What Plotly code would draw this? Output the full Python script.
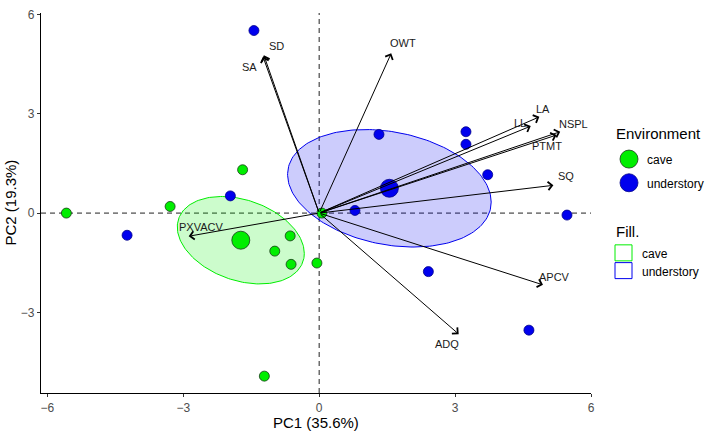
import numpy as np
import plotly.graph_objects as go

# ---- data ----
cave_pc1 = [-5.58, -3.29, -1.69, -0.64, -0.98, -0.62, -0.05, -1.21, 0.06]
cave_pc2 = [0.0, 0.20, 1.31, -0.69, -1.15, -1.55, -1.51, -4.93, 0.0]
und_pc1 = [-1.44, -1.96, -4.24, 1.32, 3.24, 3.24, 3.72, 0.79, 5.47, 2.41, 4.63]
und_pc2 = [5.52, 0.52, -0.67, 2.38, 2.46, 2.08, 1.16, 0.08, -0.06, -1.77, -3.54]

centroid_groups = ["cave", "understory"]
centroid_pc1 = [-1.73, 1.55]
centroid_pc2 = [-0.82, 0.75]

# ellipse covariance-like parameters (sxx, syy, sxy) per group
ell_sxx = [1.965, 5.05]
ell_syy = [1.748, 3.155]
ell_sxy = [-0.56, -0.939]

var_names = ["SA", "SD", "OWT", "LA", "LL", "NSPL", "PTMT", "SQ", "APCV", "ADQ", "PXVACV"]
var_pc1 = [-1.24, -1.22, 1.59, 4.86, 4.67, 5.32, 5.24, 5.17, 4.94, 3.08, -2.88]
var_pc2 = [4.73, 4.77, 4.83, 2.91, 2.63, 2.46, 2.36, 0.84, -2.17, -3.66, -0.70]

x_ticks = [-6, -3, 0, 3, 6]
y_ticks = [-3, 0, 3, 6]

# ---- styles ----
label_xshift = [-13, 13, 12, 4, -11, 13, -10, 13, 12, -12, 12]
label_yshift = [-10, 9, 10, 8, 3, 8, -11, 9, 8, -10, 9]
GREEN = "#00EE00"
BLUE = "#0000EE"
colors = [GREEN, BLUE]
outlines = ["#1a3a1a", "#00008a"]
fills = ["rgba(0,238,0,0.2)", "rgba(0,0,238,0.2)"]

XR = [-6.14, 6.0]
YR = [-5.44, 6.05]
L, R, T, B = 41, 118, 8, 42
W, H = 709, 435
PW, PH = W - L - R, H - T - B


def px(x):
    return (x - L) / PW


def py(y):
    return (H - B - y) / PH


fig = go.Figure()

# ellipses
t = np.linspace(0, 2 * np.pi, 200)
for i, g in enumerate(centroid_groups):
    M = np.array([[ell_sxx[i], ell_sxy[i]], [ell_sxy[i], ell_syy[i]]])
    Lc = np.linalg.cholesky(M)
    pts = Lc @ np.vstack([np.cos(t), np.sin(t)])
    fig.add_trace(go.Scatter(
        x=centroid_pc1[i] + pts[0], y=centroid_pc2[i] + pts[1],
        mode="lines", fill="toself", fillcolor=fills[i],
        line=dict(color=colors[i], width=1), hoverinfo="skip", showlegend=False))

# points
fig.add_trace(go.Scatter(x=cave_pc1, y=cave_pc2, mode="markers",
                         marker=dict(color=GREEN, size=10, line=dict(color=outlines[0], width=0.8)),
                         showlegend=False))
fig.add_trace(go.Scatter(x=und_pc1, y=und_pc2, mode="markers",
                         marker=dict(color=BLUE, size=10, line=dict(color=outlines[1], width=0.8)),
                         showlegend=False))
fig.add_trace(go.Scatter(x=centroid_pc1, y=centroid_pc2, mode="markers",
                         marker=dict(color=colors, size=18, line=dict(color=outlines, width=0.8)),
                         showlegend=False))

# reference dashed lines
fig.add_shape(type="line", xref="paper", yref="y", x0=0, x1=1, y0=0, y1=0,
              line=dict(color="#222222", width=1, dash="5px,4px"), layer="below")
fig.add_shape(type="line", xref="x", yref="paper", x0=0, x1=0, y0=0, y1=1,
              line=dict(color="#222222", width=1, dash="5px,4px"), layer="below")

# arrows and labels
for i, nm in enumerate(var_names):
    fig.add_annotation(x=var_pc1[i], y=var_pc2[i], ax=0, ay=0, xref="x", yref="y",
                       axref="x", ayref="y", text="", showarrow=True,
                       arrowhead=4, arrowsize=1.6, arrowwidth=1, arrowcolor="black", standoff=0)
    fig.add_annotation(x=var_pc1[i], y=var_pc2[i], xref="x", yref="y", text=nm,
                       showarrow=False, xshift=label_xshift[i], yshift=label_yshift[i],
                       font=dict(size=11, color="#1a1a1a"))

# axis titles
fig.add_annotation(x=px(316), y=py(423), xref="paper", yref="paper", text="PC1 (35.6%)",
                   showarrow=False, font=dict(size=15, color="black"), xanchor="center", yanchor="middle")
fig.add_annotation(x=px(11), y=py(200), xref="paper", yref="paper", text="PC2 (19.3%)",
                   textangle=-90, showarrow=False, font=dict(size=15, color="black"),
                   xanchor="center", yanchor="middle")

# manual legend
fig.add_annotation(x=px(614), y=py(130), xref="paper", yref="paper", text="Environment",
                   showarrow=False, font=dict(size=15, color="black"), xanchor="left", yanchor="middle")
leg_labels = ["cave", "understory"]
for i, lab in enumerate(leg_labels):
    cy = 156 + 24 * i
    fig.add_shape(type="circle", xref="paper", yref="paper", xsizemode="pixel", ysizemode="pixel",
                  xanchor=px(629), yanchor=py(cy), x0=-9, x1=9, y0=-9, y1=9,
                  fillcolor=colors[i], line=dict(color=outlines[i], width=0.8))
    fig.add_annotation(x=px(645), y=py(cy + 1), xref="paper", yref="paper", text=lab,
                       showarrow=False, font=dict(size=12, color="black"), xanchor="left", yanchor="middle")

fig.add_annotation(x=px(614), y=py(229), xref="paper", yref="paper", text="Fill.",
                   showarrow=False, font=dict(size=15, color="black"), xanchor="left", yanchor="middle")
for i, lab in enumerate(leg_labels):
    cy = 251 + 18 * i
    fig.add_shape(type="rect", xref="paper", yref="paper", xsizemode="pixel", ysizemode="pixel",
                  xanchor=px(623.5), yanchor=py(cy), x0=-8.5, x1=8.5, y0=-8, y1=8,
                  fillcolor="white", line=dict(color=colors[i], width=1))
    fig.add_annotation(x=px(640), y=py(cy + 1), xref="paper", yref="paper", text=lab,
                       showarrow=False, font=dict(size=12, color="black"), xanchor="left", yanchor="middle")

axis_common = dict(showgrid=False, zeroline=False, showline=True, linecolor="black", linewidth=1.2,
                   ticks="outside", ticklen=3, tickcolor="#333333", tickwidth=1,
                   tickfont=dict(size=12, color="#4d4d4d"), mirror=False)
fig.update_xaxes(range=XR, tickvals=x_ticks, **axis_common)
fig.update_yaxes(range=YR, tickvals=y_ticks, **axis_common)

fig.update_layout(width=W, height=H, autosize=False,
                  margin=dict(l=L, r=R, t=T, b=B, pad=0),
                  plot_bgcolor="white", paper_bgcolor="white",
                  font=dict(family="Liberation Sans, Arial, sans-serif"),
                  showlegend=False)

fig.write_html("out.html")
